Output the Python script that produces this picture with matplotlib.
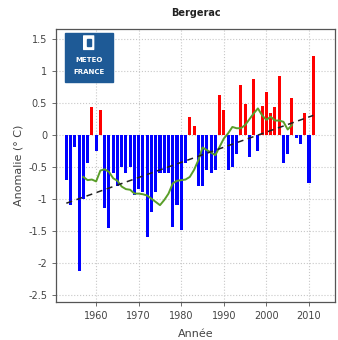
import matplotlib
matplotlib.use("Agg")
import matplotlib.pyplot as plt
from matplotlib.patches import Rectangle, FancyBboxPatch

years = list(range(1953, 2012))
anomalies = [
    -0.70, -1.10, -0.20, -2.13, -1.00, -0.45, 0.43, -0.25, 0.38, -1.15,
    -1.45, -0.60, -0.80, -0.50, -0.60, -0.50, -0.94, -0.85, -0.90, -1.59,
    -1.20, -0.89, -0.60, -0.60, -0.60, -1.44, -1.10, -1.49, -0.45, 0.28,
    0.13, -0.80, -0.80, -0.55, -0.60, -0.55, 0.62, 0.38, -0.55, -0.50,
    -0.30, 0.78, 0.48, -0.35, 0.87, -0.25, 0.45, 0.67, 0.33, 0.43,
    0.92, -0.45, -0.30, 0.57, -0.06, -0.15, 0.33, -0.75, 1.22,
]

smooth_years = list(range(1957, 2007))
smooth_values = [
    -0.66, -0.71, -0.70, -0.73, -0.56, -0.54, -0.58, -0.68, -0.72, -0.81,
    -0.85, -0.86, -0.92, -0.92, -0.93, -0.95, -1.00, -1.05, -1.10, -1.02,
    -0.92, -0.76, -0.72, -0.71, -0.70, -0.66, -0.55, -0.40, -0.20, -0.24,
    -0.28, -0.32, -0.19, -0.06, 0.02, 0.12, 0.10, 0.10, 0.15, 0.24,
    0.33, 0.41, 0.30, 0.23, 0.28, 0.22, 0.22, 0.20, 0.08, 0.15,
]

trend_years = [1953, 2011]
trend_values = [-1.07, 0.30]

yticks = [-2.5, -2, -1.5, -1, -0.5, 0, 0.5, 1, 1.5]
ytick_labels = ["-2.5", "-2", "-1.5", "-1", "-0.5", "0", "0.5", "1", "1.5"]
xticks = [1960, 1970, 1980, 1990, 2000, 2010]

fig = plt.figure(figsize=(3.38, 3.40), dpi=100)
ax = fig.add_axes([0.166, 0.112, 0.825, 0.803])

colors = ["#ff0000" if v > 0 else "#0000ff" for v in anomalies]
ax.bar(years, anomalies, width=0.72, color=colors, zorder=2)
ax.plot(smooth_years, smooth_values, color="#5a9e2a", lw=1.4, zorder=3)
ax.plot(trend_years, trend_values, color="#222222", lw=1.1, ls=(0, (4, 3)), zorder=4)

ax.set_xlim(1950.6, 2016.1)
ax.set_ylim(-2.61, 1.65)
ax.set_yticks(yticks)
ax.set_yticklabels(ytick_labels)
ax.set_xticks(xticks)
ax.grid(True, color="#c8c8c8", ls=":", lw=0.8, zorder=0)
ax.set_axisbelow(True)
ax.tick_params(labelsize=7, colors="#555555", length=3, width=0.6, labelcolor="#444444")
for s in ax.spines.values():
    s.set_color("#555555")
    s.set_linewidth(0.9)

ax.set_ylabel("Anomalie (° C)", fontsize=8, color="#444444", labelpad=3)
ax.set_xlabel("Année", fontsize=8, color="#444444", labelpad=6)
fig.text(0.58, 0.962, "Bergerac", ha="center", va="center", fontsize=7, fontweight="bold", color="#222222")

# Meteo France logo
lx0, ly0 = 1952.6, 0.82
logo = Rectangle((lx0, ly0), 11.3, 0.77, transform=ax.transData, color="#1e5a96", zorder=5)
ax.add_patch(logo)
ax.add_patch(FancyBboxPatch((lx0 + 4.5, 1.35), 2.3, 0.17, boxstyle="round,pad=0.02",
                            color="white", zorder=6))
ax.add_patch(Rectangle((lx0 + 5.2, 1.38), 1.0, 0.11, color="#1e5a96", zorder=7))
ax.text(lx0 + 5.65, 1.16, "METEO", ha="center", va="center", fontsize=5, fontweight="bold", color="white", zorder=7)
ax.text(lx0 + 5.65, 0.98, "FRANCE", ha="center", va="center", fontsize=5, fontweight="bold", color="white", zorder=7)

fig.savefig("out.png", dpi=100)
